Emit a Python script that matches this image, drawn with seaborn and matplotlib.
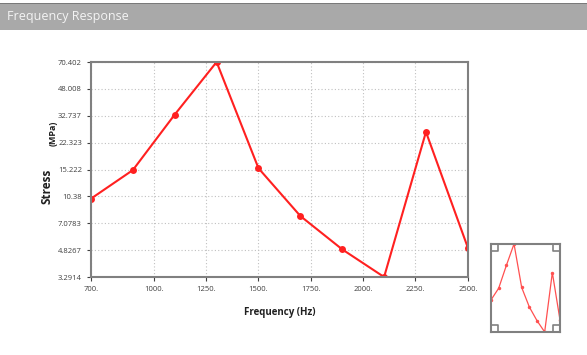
import numpy as np
import pandas as pd
import matplotlib
matplotlib.use("Agg")
import matplotlib.pyplot as plt
import seaborn as sns
from matplotlib.patches import Rectangle

# data
freq = [700, 900, 1100, 1300, 1500, 1700, 1900, 2100, 2300, 2500]
stress = [10.05, 15.1, 33.3, 70.402, 15.5, 7.85, 4.88, 3.2914, 26.0, 5.0]
x_ticks = [700, 1000, 1250, 1500, 1750, 2000, 2250, 2500]
x_labels = ["700.", "1000.", "1250.", "1500.", "1750.", "2000.", "2250.", "2500."]
y_ticks = [3.2914, 4.8267, 7.0783, 10.38, 15.222, 22.323, 32.737, 48.008, 70.402]
y_labels = ["3.2914", "4.8267", "7.0783", "10.38", "15.222", "22.323", "32.737", "48.008", "70.402"]

df = pd.DataFrame({"Frequency": freq, "Stress": stress})

sns.set_style("white")
plt.rcParams['font.family'] = ['Open Sans', 'DejaVu Sans']

fig = plt.figure(figsize=(5.87, 3.55), dpi=100)
fig.patch.set_facecolor("white")

# title bar
fig.patches.append(Rectangle((0, 0.9155), 1, 0.076, transform=fig.transFigure,
                             facecolor="#a9a9a9", edgecolor="none", zorder=0))
fig.patches.append(Rectangle((0, 0.9875), 1, 0.004, transform=fig.transFigure,
                             facecolor="#7a7a7a", edgecolor="none", zorder=1))
fig.text(0.012, 0.953, "Frequency Response", color="#f4f4f4", fontsize=9,
         va="center", ha="left")

# main chart
ax = fig.add_axes([0.155, 0.2197, 0.642, 0.6056])
sns.lineplot(data=df, x="Frequency", y="Stress", ax=ax, color="#ff2020",
             marker="o", markersize=5, markeredgewidth=0, linewidth=1.5)
ax.set_yscale("log")
ax.set_xlim(700, 2500)
ax.set_ylim(y_ticks[0], y_ticks[-1])
ax.set_xticks(x_ticks)
ax.set_xticklabels(x_labels)
ax.set_yticks(y_ticks)
ax.set_yticklabels(y_labels)
ax.yaxis.set_minor_locator(matplotlib.ticker.NullLocator())
ax.tick_params(axis="both", labelsize=5.5, colors="#404040", length=3, width=0.8,
               direction="out", left=True, bottom=True)
ax.grid(True, linestyle=(0, (1, 2)), color="#c0c0c0", linewidth=0.8)
for s in ax.spines.values():
    s.set_color("#808080")
    s.set_linewidth(1.5)
ax.set_xlabel("Frequency (Hz)", fontsize=7, fontweight="bold", color="#202020", labelpad=10)
ax.set_ylabel("")
fig.text(0.08, 0.475, "Stress", rotation=90, fontsize=8.5, fontweight="bold",
         color="#202020", ha="center", va="center")
fig.text(0.091, 0.625, "(MPa)", rotation=90, fontsize=6.5, fontweight="bold",
         color="#202020", ha="center", va="center")

# thumbnail
ax2 = fig.add_axes([0.8365, 0.0648, 0.1175, 0.248])
sns.lineplot(data=df, x="Frequency", y="Stress", ax=ax2, color="#ff5050",
             marker="o", markersize=2.5, markeredgewidth=0, linewidth=0.9)
ax2.set_yscale("log")
ax2.set_xlim(700, 2500)
ax2.set_ylim(y_ticks[0], y_ticks[-1])
ax2.set_xticks([])
ax2.set_yticks([])
ax2.minorticks_off()
ax2.set_xlabel("")
ax2.set_ylabel("")
for s in ax2.spines.values():
    s.set_color("#808080")
    s.set_linewidth(1.5)
# corner marks
for cx, cy, dx, dy in [(0, 0, 1, 1), (1, 0, -1, 1), (0, 1, 1, -1), (1, 1, -1, -1)]:
    ax2.plot([cx + 0.1 * dx, cx + 0.1 * dx, cx], [cy, cy + 0.08 * dy, cy + 0.08 * dy],
             transform=ax2.transAxes, color="#808080", linewidth=1.2, clip_on=False)

fig.savefig("out.png", dpi=100)
